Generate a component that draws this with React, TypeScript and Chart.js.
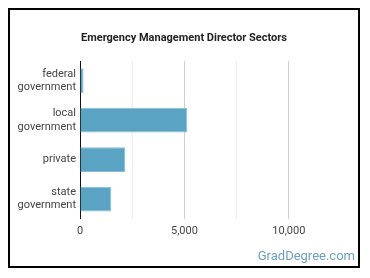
import React, { useEffect, useRef } from "react";
import { Chart, registerables } from "chart.js";

Chart.register(...registerables);

const categories: string[][] = [
  ["federal", "government"],
  ["local", "government"],
  ["private"],
  ["state", "government"],
];
const employment: number[] = [170, 5140, 2170, 1500];
const xMax = 12500;
const xStep = 2500;
const labeledStep = 5000;

const FONT = "Roboto, 'Noto Sans', sans-serif";

export default function App() {
  const canvasRef = useRef<HTMLCanvasElement | null>(null);

  useEffect(() => {
    if (!canvasRef.current) return;
    const chart = new Chart(canvasRef.current, {
      type: "bar",
      data: {
        labels: categories,
        datasets: [
          {
            data: employment,
            backgroundColor: "#5aa3c2",
            borderColor: "#86bdd5",
            borderWidth: 1,
            categoryPercentage: 0.7,
            barPercentage: 0.9,
          },
        ],
      },
      options: {
        indexAxis: "y",
        animation: false,
        responsive: false,
        maintainAspectRatio: false,
        layout: { padding: { left: 0, right: 17, top: 51, bottom: 22 } },
        plugins: {
          legend: { display: false },
          tooltip: { enabled: false },
          title: { display: false },
        },
        scales: {
          x: {
            min: 0,
            max: xMax,
            border: { display: false },
            grid: {
              drawTicks: false,
              color: (ctx: any) => {
                const v = ctx.tick ? ctx.tick.value : 0;
                if (v === xMax) return "rgba(0,0,0,0)";
                return v % labeledStep === 0 ? "#cfcfcf" : "#ececec";
              },
            },
            ticks: {
              stepSize: xStep,
              padding: 6,
              color: "#444",
              font: { family: FONT, size: 11 },
              callback: (value: any) =>
                Number(value) % labeledStep === 0 && Number(value) !== xMax
                  ? Number(value).toLocaleString("en-US")
                  : "",
            },
          },
          y: {
            border: { display: true, color: "#111", width: 1 },
            grid: { display: false, drawTicks: false },
            ticks: {
              padding: 4,
              color: "#444",
              font: { family: FONT, size: 11 },
            },
            afterFit: (scale: any) => {
              scale.width = 70;
            },
          },
        },
      },
    });
    return () => chart.destroy();
  }, []);

  return (
    <div
      style={{
        position: "relative",
        width: 352,
        height: 260,
        border: "2px solid #000",
        boxSizing: "border-box",
        background: "#fff",
      }}
    >
      <div
        style={{
          position: "absolute",
          left: 0,
          right: 0,
          top: 21,
          textAlign: "center",
          fontFamily: FONT,
          fontSize: 11,
          fontWeight: "bold",
          lineHeight: "13px",
          color: "#222",
        }}
      >
        Emergency Management Director Sectors
      </div>
      <canvas ref={canvasRef} width={348} height={256} style={{ display: "block" }} />
      <div
        style={{
          position: "absolute",
          right: 3,
          bottom: 4,
          fontFamily: FONT,
          fontSize: 13,
          lineHeight: "13px",
          color: "#6d9fc0",
        }}
      >
        GradDegree.com
      </div>
    </div>
  );
}
